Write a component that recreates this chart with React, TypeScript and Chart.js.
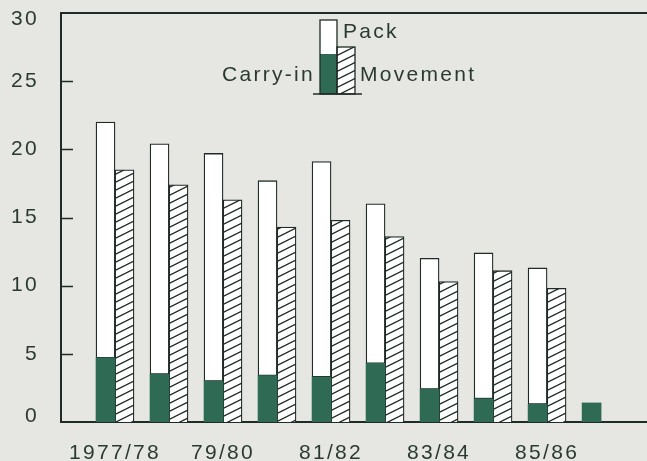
import React, { useEffect, useRef } from "react";
import { Chart, registerables } from "chart.js";

Chart.register(...registerables);

const categories = ["1977/78", "78/79", "79/80", "80/81", "81/82", "82/83", "83/84", "84/85", "85/86", "86/87"];
const packTotal = [22.0, 20.4, 19.7, 17.7, 19.1, 16.0, 12.0, 12.4, 11.3, null];
const movement = [18.5, 17.4, 16.3, 14.3, 14.8, 13.6, 10.3, 11.1, 9.8, null];
const carryIn = [4.7, 3.5, 3.0, 3.4, 3.3, 4.3, 2.4, 1.7, 1.3, 1.4];
const labelledTicks = [0, 2, 4, 6, 8];
const yTicks = [0, 5, 10, 15, 20, 25, 30];

const BG = "#e6e7e2";
const GREEN = "#2e6a54";
const LINE = "#1f2b26";
const TEXT = "#2a3a33";
const FONT = "'Liberation Sans', Arial, sans-serif";

function makeHatch(): CanvasPattern | string {
  const c = document.createElement("canvas");
  c.width = 16;
  c.height = 8;
  const g = c.getContext("2d");
  if (!g) return "#fff";
  g.fillStyle = "#ffffff";
  g.fillRect(0, 0, 16, 8);
  g.strokeStyle = LINE;
  g.lineWidth = 1.3;
  for (const dy of [-8, 0, 8]) {
    g.beginPath();
    g.moveTo(-4, 10 + dy);
    g.lineTo(20, -2 + dy);
    g.stroke();
  }
  const p = g.createPattern(c, "repeat");
  return p || "#fff";
}

export default function App() {
  const ref = useRef<HTMLCanvasElement | null>(null);

  useEffect(() => {
    document.body.style.margin = "0";
    document.body.style.background = BG;
    const canvas = ref.current;
    if (!canvas) return;
    const hatch = makeHatch();

    const spacing = {
      id: "spacing",
      beforeLayout(chart: any) {
        chart.ctx.letterSpacing = "2.3px";
      },
      beforeDraw(chart: any) {
        const ctx = chart.ctx;
        ctx.letterSpacing = "2.3px";
        ctx.save();
        ctx.fillStyle = BG;
        ctx.fillRect(0, 0, chart.width, chart.height);
        ctx.restore();
        // nudge the end labels of the y axis inward, as in the original
        const ys = chart.scales.y;
        const items = ys.getLabelItems(chart.chartArea);
        if (items && items.length && !ys.__nudged) {
          ys.__nudged = true;
          const first = items[0];
          const last = items[items.length - 1];
          first.options.translation = [first.options.translation[0], first.options.translation[1] - 6];
          last.options.translation = [last.options.translation[0], last.options.translation[1] + 6];
        }
      },
    };

    const decor = {
      id: "decor",
      afterDraw(chart: any) {
        const ctx = chart.ctx;
        const a = chart.chartArea;
        const ys = chart.scales.y;
        ctx.save();
        ctx.strokeStyle = LINE;
        ctx.lineWidth = 2;
        ctx.beginPath();
        ctx.moveTo(a.left, a.top);
        ctx.lineTo(a.right, a.top);
        ctx.stroke();
        ctx.lineWidth = 1.5;
        for (const v of yTicks) {
          if (v === 0 || v === 30) continue;
          const y = Math.round(ys.getPixelForValue(v)) + 0.5;
          ctx.beginPath();
          ctx.moveTo(a.left, y);
          ctx.lineTo(a.left + 12, y);
          ctx.stroke();
        }
        // legend
        const px = 320, pw = 17, mw = 18;
        const top = 20, gTop = 54, mTop = 47, base = 94;
        ctx.fillStyle = "#ffffff";
        ctx.fillRect(px, top, pw, base - top);
        ctx.fillStyle = GREEN;
        ctx.fillRect(px, gTop, pw, base - gTop);
        ctx.fillStyle = hatch as any;
        ctx.fillRect(px + pw, mTop, mw, base - mTop);
        ctx.lineWidth = 1.3;
        ctx.strokeStyle = LINE;
        ctx.strokeRect(px, top, pw, base - top);
        ctx.strokeRect(px + pw, mTop, mw, base - mTop);
        ctx.lineWidth = 1.5;
        ctx.beginPath();
        ctx.moveTo(313, base);
        ctx.lineTo(362, base);
        ctx.stroke();
        ctx.fillStyle = TEXT;
        ctx.font = `21px ${FONT}`;
        (ctx as any).letterSpacing = "2.3px";
        ctx.textBaseline = "middle";
        ctx.textAlign = "left";
        ctx.fillText("Pack", 343, 32);
        ctx.fillText("Movement", 360, 75);
        ctx.textAlign = "right";
        ctx.fillText("Carry-in", 315, 75);
        ctx.restore();
      },
    };

    const toXY = (arr: (number | null)[]) => arr.map((v, i) => ({ x: i, y: v }));
    const packRest = packTotal.map((v, i) => (v == null ? null : v - (carryIn[i] ?? 0)));

    const chart = new Chart(canvas, {
      type: "bar",
      data: {
        datasets: [
          {
            label: "Carry-in",
            data: toXY(carryIn) as any,
            stack: "pack",
            backgroundColor: GREEN,
            borderWidth: 0,
            barThickness: 19,
          },
          {
            label: "Pack",
            data: toXY(packRest) as any,
            stack: "pack",
            backgroundColor: "#ffffff",
            borderColor: LINE,
            borderWidth: 1.3,
            borderSkipped: false,
            barThickness: 19,
          },
          {
            label: "Movement",
            data: toXY(movement) as any,
            stack: "move",
            backgroundColor: hatch as any,
            borderColor: LINE,
            borderWidth: 1.3,
            borderSkipped: "start",
            barThickness: 19,
          },
        ],
      },
      options: {
        animation: false,
        responsive: false,
        devicePixelRatio: 1,
        layout: { padding: { top: 13, right: 0, left: 0, bottom: 0 } },
        plugins: { legend: { display: false }, tooltip: { enabled: false } },
        scales: {
          x: {
            type: "linear",
            min: -1,
            max: 9.85,
            offset: false,
            grid: { display: false },
            border: { display: true, color: LINE, width: 2 },
            afterBuildTicks: (s: any) => {
              s.ticks = labelledTicks.map((v) => ({ value: v }));
            },
            afterFit: (s: any) => {
              s.height = 39;
              s.paddingLeft = 0;
              s.paddingRight = 0;
            },
            ticks: {
              color: TEXT,
              font: { family: FONT, size: 21 },
              padding: 11,
              maxRotation: 0,
              autoSkip: false,
              callback: (v: any) => categories[Number(v)] ?? "",
            },
          },
          y: {
            min: 0,
            max: 30,
            stacked: true,
            grid: { display: false },
            border: { display: true, color: LINE, width: 2 },
            afterBuildTicks: (s: any) => {
              s.ticks = yTicks.map((v) => ({ value: v }));
            },
            afterFit: (s: any) => {
              s.width = 61;
              s.paddingTop = 0;
              s.paddingBottom = 0;
            },
            ticks: {
              color: TEXT,
              font: { family: FONT, size: 21 },
              padding: 14,
            },
          },
        },
      },
      plugins: [spacing, decor],
    });

    return () => chart.destroy();
  }, []);

  return (
    <div style={{ width: 647, height: 461 }}>
      <canvas ref={ref} width={647} height={461} />
    </div>
  );
}
